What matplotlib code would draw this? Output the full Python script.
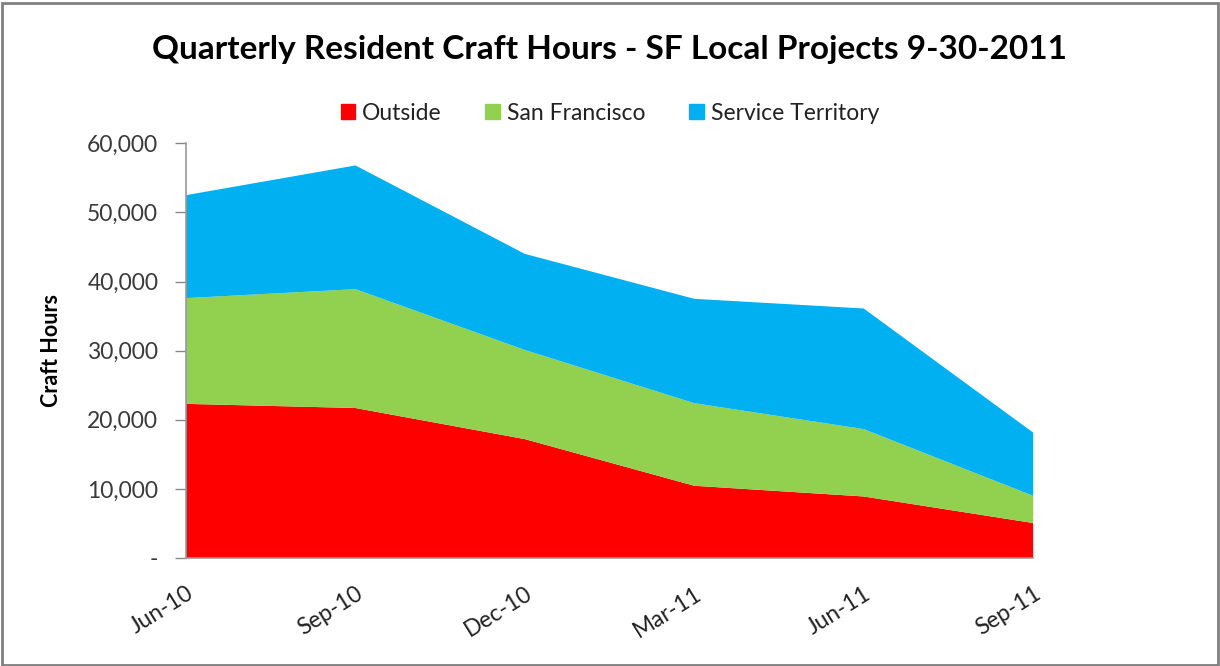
import matplotlib.pyplot as plt
import matplotlib.patches as mpatches
from matplotlib.ticker import FuncFormatter

quarters = ['Jun-10', 'Sep-10', 'Dec-10', 'Mar-11', 'Jun-11', 'Sep-11']
outside = [22300, 21700, 17200, 10450, 8900, 5060]
san_francisco = [15300, 17200, 12900, 11950, 9750, 3940]
service_territory = [14900, 17900, 13900, 15100, 17450, 9150]

labels = ['Outside', 'San Francisco', 'Service Territory']
colors = ['#FF0000', '#92D050', '#00B0F0']

plt.rcParams['font.family'] = ['Lato', 'DejaVu Sans']

fig = plt.figure(figsize=(12.2, 6.66), dpi=100)
ax = fig.add_axes([0.1525, 0.1622, 0.6943, 0.6226])

x = list(range(len(quarters)))
ax.stackplot(x, outside, san_francisco, service_territory, colors=colors, linewidth=0)

ax.set_xlim(0, len(quarters) - 1)
ax.set_ylim(0, 60000)
ax.set_yticks(range(0, 60001, 10000))
ax.yaxis.set_major_formatter(FuncFormatter(lambda v, p: '-' if v == 0 else f'{int(v):,}'))
ax.set_xticks(x)
ax.set_xticklabels(quarters, rotation=32, ha='right', rotation_mode='anchor', fontsize=16.5,
                   color='#222222')
ax.tick_params(axis='y', labelsize=16.5, labelcolor='#3a3a3a', color='#888888', length=8,
               width=1, pad=12)
ax.tick_params(axis='x', length=0, pad=18)

for s in ['top', 'right']:
    ax.spines[s].set_visible(False)
for s in ['left', 'bottom']:
    ax.spines[s].set_color('#999999')
    ax.spines[s].set_linewidth(1.2)

ax.set_ylabel('Craft Hours', fontsize=15.5, fontweight='bold', labelpad=18)

fig.text(0.5, 0.925, 'Quarterly Resident Craft Hours - SF Local Projects 9-30-2011',
         ha='center', va='center', fontsize=24, fontweight='bold')

handles = [mpatches.Patch(color=c, label=l) for c, l in zip(colors, labels)]
fig.legend(handles=handles, loc='center', bbox_to_anchor=(0.5, 0.83), ncol=3,
           frameon=False, fontsize=16.5, handlelength=0.65, handleheight=0.65,
           handletextpad=0.3, columnspacing=1.9, labelcolor='#222222')

# outer frame like the Excel chart area
fig.patches.append(mpatches.Rectangle((0.002, 0.002), 0.996, 0.993, transform=fig.transFigure,
                                      fill=False, edgecolor='#808080', linewidth=2))

fig.savefig('out.png', dpi=100)
